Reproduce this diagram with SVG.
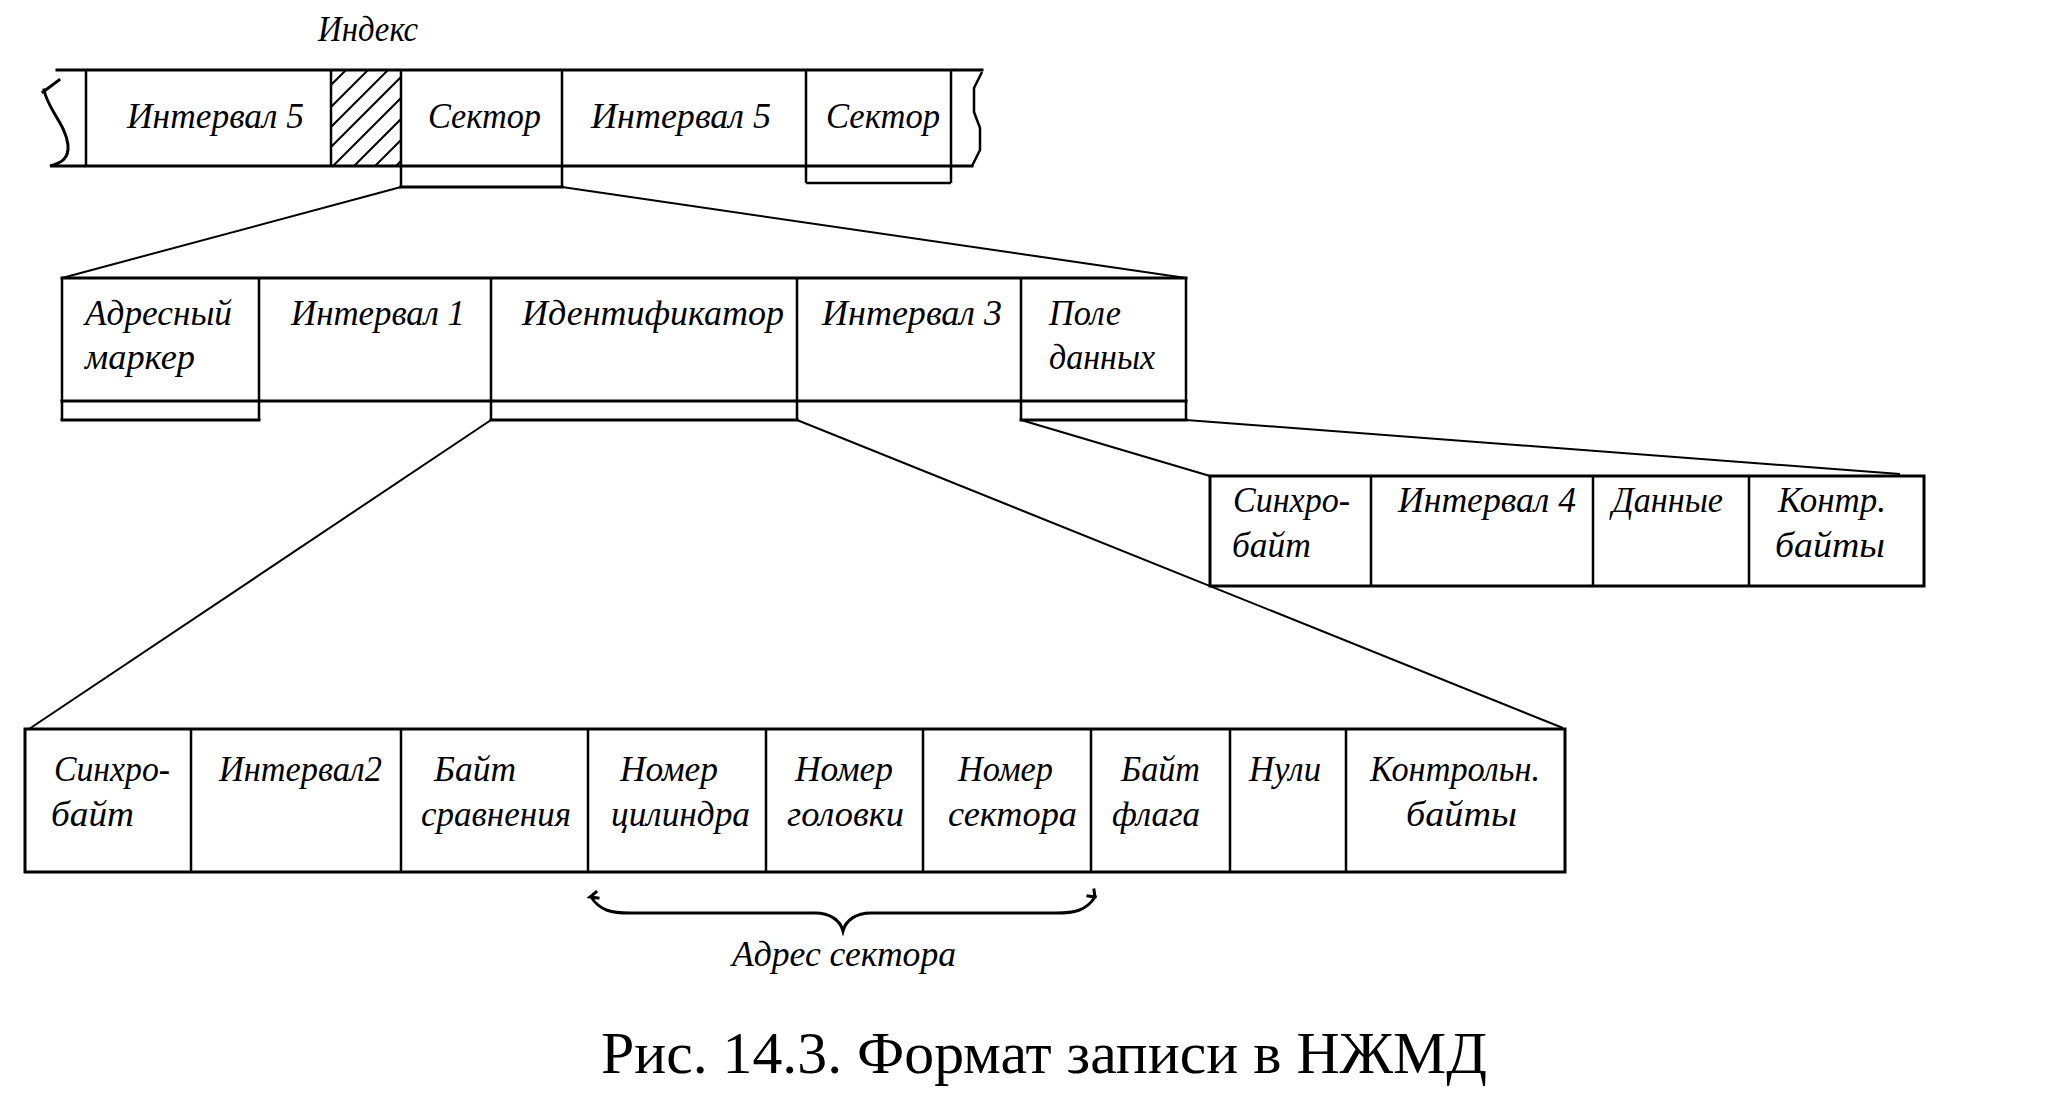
<svg xmlns="http://www.w3.org/2000/svg" width="2048" height="1098" viewBox="0 0 2048 1098">
<style>
.ln{stroke:#000;stroke-width:3;fill:none;stroke-linecap:square}
.th{stroke:#000;stroke-width:2.5;fill:none}
.cn{stroke:#000;stroke-width:2;fill:none}
.hb{stroke:#000;stroke-width:2;fill:none}
.lb{font-family:"Liberation Serif","Times New Roman",serif;font-style:italic;font-size:36px;fill:#000}
.cap{font-family:"Liberation Serif","Times New Roman",serif;font-size:60px;fill:#000}
</style>
<defs>
<clipPath id="hatchClip"><rect x="331" y="70" width="70" height="97"/></clipPath>
</defs>
<rect width="2048" height="1098" fill="#fff"/>

<g id="connectors">
<line class="cn" x1="401" y1="187" x2="62" y2="278"/>
<line class="cn" x1="562" y1="187" x2="1186" y2="278"/>
<line class="cn" x1="491" y1="420" x2="29" y2="729"/>
<line class="cn" x1="797" y1="420" x2="1563" y2="728"/>
<line class="cn" x1="1021" y1="420" x2="1210" y2="476"/>
<line class="cn" x1="1186" y1="420" x2="1900" y2="474"/>
</g>

<g id="track">
<path class="ln" d="M57,70 H982"/>
<path class="ln" d="M86,166 H972"/>
<path class="ln" d="M59,80 L43,92 M44,90 C48,110 66,125 68,145 C69,158 62,163 50,166 L84,166"/>
<path class="th" d="M982,72 L974,88 L974,112 L980,128 L980,150 L972,166"/>
<g id="interval5a">
<path class="th" d="M86,70 V166"/>
<text class="lb" x="127" y="128" textLength="177" lengthAdjust="spacingAndGlyphs">Интервал 5</text>
</g>
<g id="index">
<path class="th" d="M331,70 V166"/>
<g clip-path="url(#hatchClip)">
<path class="hb" d="M331,85 L346,70 M331,107 L368,70 M331,127 L388,70 M331,147 L408,70 M331,168 L429,70 M352,168 L450,70 M373,168 L471,70 M394,168 L492,70"/>
</g>
<text class="lb" x="318" y="41" textLength="100" lengthAdjust="spacingAndGlyphs">Индекс</text>
</g>
<g id="sector1">
<path class="th" d="M401,70 V187 M562,70 V187"/>
<path class="ln" d="M401,187 H562"/>
<text class="lb" x="428" y="128" textLength="113" lengthAdjust="spacingAndGlyphs">Сектор</text>
</g>
<g id="interval5b">
<text class="lb" x="591" y="128" textLength="180" lengthAdjust="spacingAndGlyphs">Интервал 5</text>
</g>
<g id="sector2">
<path class="th" d="M806,70 V183 M951,70 V183 M806,183 H951"/>
<text class="lb" x="826" y="128" textLength="114" lengthAdjust="spacingAndGlyphs">Сектор</text>
</g>
</g>

<g id="sector-format">
<path class="ln" d="M62,278 H1186 M62,401 H1186"/>
<g id="address-marker">
<path class="th" d="M62,278 V420 M259,278 V420"/>
<path class="ln" d="M62,420 H259"/>
<text class="lb" x="85" y="325" textLength="147" lengthAdjust="spacingAndGlyphs">Адресный</text>
<text class="lb" x="85" y="369" textLength="110" lengthAdjust="spacingAndGlyphs">маркер</text>
</g>
<g id="interval1">
<text class="lb" x="291" y="325" textLength="174" lengthAdjust="spacingAndGlyphs">Интервал 1</text>
</g>
<g id="identifier">
<path class="th" d="M491,278 V420 M797,278 V420"/>
<path class="ln" d="M491,420 H797"/>
<text class="lb" x="522" y="325" textLength="262" lengthAdjust="spacingAndGlyphs">Идентификатор</text>
</g>
<g id="interval3">
<text class="lb" x="822" y="325" textLength="180" lengthAdjust="spacingAndGlyphs">Интервал 3</text>
</g>
<g id="data-field">
<path class="th" d="M1021,278 V420 M1186,278 V420"/>
<path class="ln" d="M1021,420 H1186"/>
<text class="lb" x="1049" y="325" textLength="72" lengthAdjust="spacingAndGlyphs">Поле</text>
<text class="lb" x="1049" y="369" textLength="106" lengthAdjust="spacingAndGlyphs">данных</text>
</g>
</g>

<g id="data-format">
<rect class="ln" x="1210" y="476" width="714" height="110"/>
<path class="th" d="M1371,476 V586 M1593,476 V586 M1749,476 V586"/>
<g id="sync2"><text class="lb" x="1233" y="512" textLength="117" lengthAdjust="spacingAndGlyphs">Синхро-</text>
<text class="lb" x="1232" y="557" textLength="79" lengthAdjust="spacingAndGlyphs">байт</text></g>
<g id="interval4"><text class="lb" x="1398" y="512" textLength="178" lengthAdjust="spacingAndGlyphs">Интервал 4</text></g>
<g id="data"><text class="lb" x="1612" y="512" textLength="111" lengthAdjust="spacingAndGlyphs">Данные</text></g>
<g id="crc2"><text class="lb" x="1778" y="512" textLength="108" lengthAdjust="spacingAndGlyphs">Контр.</text>
<text class="lb" x="1775" y="557" textLength="110" lengthAdjust="spacingAndGlyphs">байты</text></g>
</g>

<g id="id-format">
<rect class="ln" x="25" y="729" width="1540" height="143"/>
<path class="th" d="M191,729 V872 M401,729 V872 M588,729 V872 M766,729 V872 M923,729 V872 M1091,729 V872 M1230,729 V872 M1346,729 V872"/>
<g id="sync1"><text class="lb" x="54" y="781" textLength="116" lengthAdjust="spacingAndGlyphs">Синхро-</text>
<text class="lb" x="51" y="826" textLength="83" lengthAdjust="spacingAndGlyphs">байт</text></g>
<g id="interval2"><text class="lb" x="219" y="781" textLength="163" lengthAdjust="spacingAndGlyphs">Интервал2</text></g>
<g id="compare"><text class="lb" x="434" y="781" textLength="82" lengthAdjust="spacingAndGlyphs">Байт</text>
<text class="lb" x="421" y="826" textLength="150" lengthAdjust="spacingAndGlyphs">сравнения</text></g>
<g id="cylinder"><text class="lb" x="620" y="781" textLength="98" lengthAdjust="spacingAndGlyphs">Номер</text>
<text class="lb" x="611" y="826" textLength="139" lengthAdjust="spacingAndGlyphs">цилиндра</text></g>
<g id="head"><text class="lb" x="795" y="781" textLength="98" lengthAdjust="spacingAndGlyphs">Номер</text>
<text class="lb" x="787" y="826" textLength="117" lengthAdjust="spacingAndGlyphs">головки</text></g>
<g id="sector-no"><text class="lb" x="958" y="781" textLength="95" lengthAdjust="spacingAndGlyphs">Номер</text>
<text class="lb" x="948" y="826" textLength="129" lengthAdjust="spacingAndGlyphs">сектора</text></g>
<g id="flag"><text class="lb" x="1121" y="781" textLength="79" lengthAdjust="spacingAndGlyphs">Байт</text>
<text class="lb" x="1112" y="826" textLength="88" lengthAdjust="spacingAndGlyphs">флага</text></g>
<g id="zeros"><text class="lb" x="1249" y="781" textLength="72" lengthAdjust="spacingAndGlyphs">Нули</text></g>
<g id="crc1"><text class="lb" x="1370" y="781" textLength="170" lengthAdjust="spacingAndGlyphs">Контрольн.</text>
<text class="lb" x="1406" y="826" textLength="111" lengthAdjust="spacingAndGlyphs">байты</text></g>
</g>

<g id="sector-address">
<path class="ln" d="M596,892 L590,897 L598,898 M591,897 C600,911 612,913 630,913 L815,913 C830,913 840,920 843,931 C846,920 856,913 871,913 L1056,913 C1074,913 1086,911 1095,897 L1088,896 M1095,897 L1094,890"/>
<text class="lb" x="732" y="966" textLength="224" lengthAdjust="spacingAndGlyphs">Адрес сектора</text>
</g>

<text class="cap" x="601" y="1073" textLength="886" lengthAdjust="spacingAndGlyphs">Рис. 14.3. Формат записи в НЖМД</text>
</svg>
